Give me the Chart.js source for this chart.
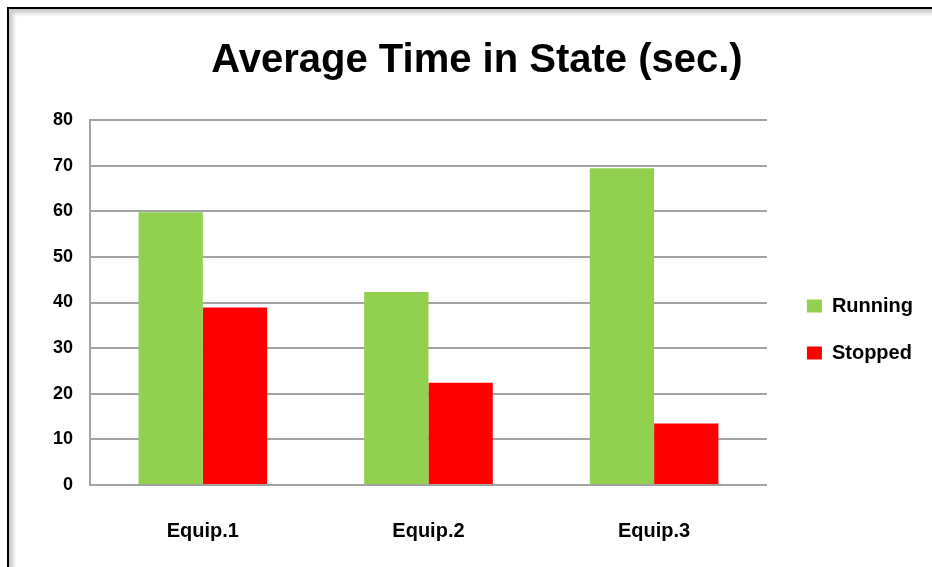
<!DOCTYPE html>
<html>
<head>
<meta charset="utf-8">
<title>Average Time in State (sec.)</title>
<script src="https://cdn.jsdelivr.net/npm/chart.js@4.4.1/dist/chart.umd.min.js"></script>
<style>
  html, body { margin: 0; padding: 0; background: #fff; }
  #wrap { position: relative; width: 932px; height: 567px; overflow: hidden; background: #fff; }
  #chart { position: absolute; left: 0; top: 0; }
  /* sheet frame: dark rule top/left with a soft inner shade */
  #frame {
    position: absolute; left: 7px; top: 7px; width: 960px; height: 600px;
    border-top: 2px solid #000; border-left: 2px solid #000;
    box-shadow: inset 5px 5px 4px -1px rgba(0,0,0,0.22);
    pointer-events: none;
  }
</style>
</head>
<body>
<div id="wrap">
  <canvas id="chart" width="932" height="567"></canvas>
  <div id="frame"></div>
</div>
<script>
// equipment and the average seconds spent in each state
const categories = ['Equip.1', 'Equip.2', 'Equip.3'];
const runningSec = [59.8, 42.3, 69.4];
const stoppedSec = [38.9, 22.4, 13.5];
const seriesNames = ['Running', 'Stopped'];
const yTickValues = [0, 10, 20, 30, 40, 50, 60, 70, 80];

const FONT = "'Liberation Sans', Arial, sans-serif";
const GRID = '#a3a3a3';

// shifts the title and legend blocks slightly after layout
const blockOffset = {
  id: 'blockOffset',
  afterLayout(chart) {
    const lg = chart.legend;
    if (lg) {
      lg.left += 13; lg.right += 13;
      lg.top += 46; lg.bottom += 46;
    }
    const tb = chart.titleBlock;
    if (tb) {
      tb.left += 22; tb.right += 22;
    }
  }
};

new Chart(document.getElementById('chart'), {
  type: 'bar',
  data: {
    labels: categories,
    datasets: [
      { label: seriesNames[0], data: runningSec, backgroundColor: '#92D050', borderWidth: 0 },
      { label: seriesNames[1], data: stoppedSec, backgroundColor: '#FF0000', borderWidth: 0 }
    ]
  },
  options: {
    responsive: false,
    animation: false,
    devicePixelRatio: 1,
    layout: { padding: { left: 0, right: 22, top: 0, bottom: 0 } },
    datasets: { bar: { categoryPercentage: 0.57, barPercentage: 1.0 } },
    plugins: {
      title: {
        display: true,
        text: 'Average Time in State (sec.)',
        color: '#000',
        font: { family: FONT, size: 40, weight: 'bold' },
        padding: { top: 37, bottom: 35 }
      },
      legend: {
        position: 'right',
        align: 'center',
        labels: {
          boxWidth: 15,
          boxHeight: 13,
          padding: 27,
          color: '#000',
          font: { family: FONT, size: 20, weight: 'bold' }
        }
      },
      tooltip: { enabled: false }
    },
    scales: {
      x: {
        grid: { display: false },
        border: { display: true, color: GRID, width: 2 },
        ticks: {
          color: '#000',
          padding: 26,
          font: { family: FONT, size: 20, weight: 'bold' }
        },
        afterFit(scale) { scale.height = 82; }
      },
      y: {
        min: 0,
        max: 80,
        afterBuildTicks(scale) { scale.ticks = yTickValues.map(v => ({ value: v })); },
        grid: { color: GRID, lineWidth: 2, drawTicks: false },
        border: { display: true, color: GRID, width: 2 },
        ticks: {
          color: '#000',
          padding: 17,
          font: { family: FONT, size: 18, weight: 'bold' }
        },
        afterFit(scale) { scale.width = 90; }
      }
    }
  },
  plugins: [blockOffset]
});
</script>
</body>
</html>
